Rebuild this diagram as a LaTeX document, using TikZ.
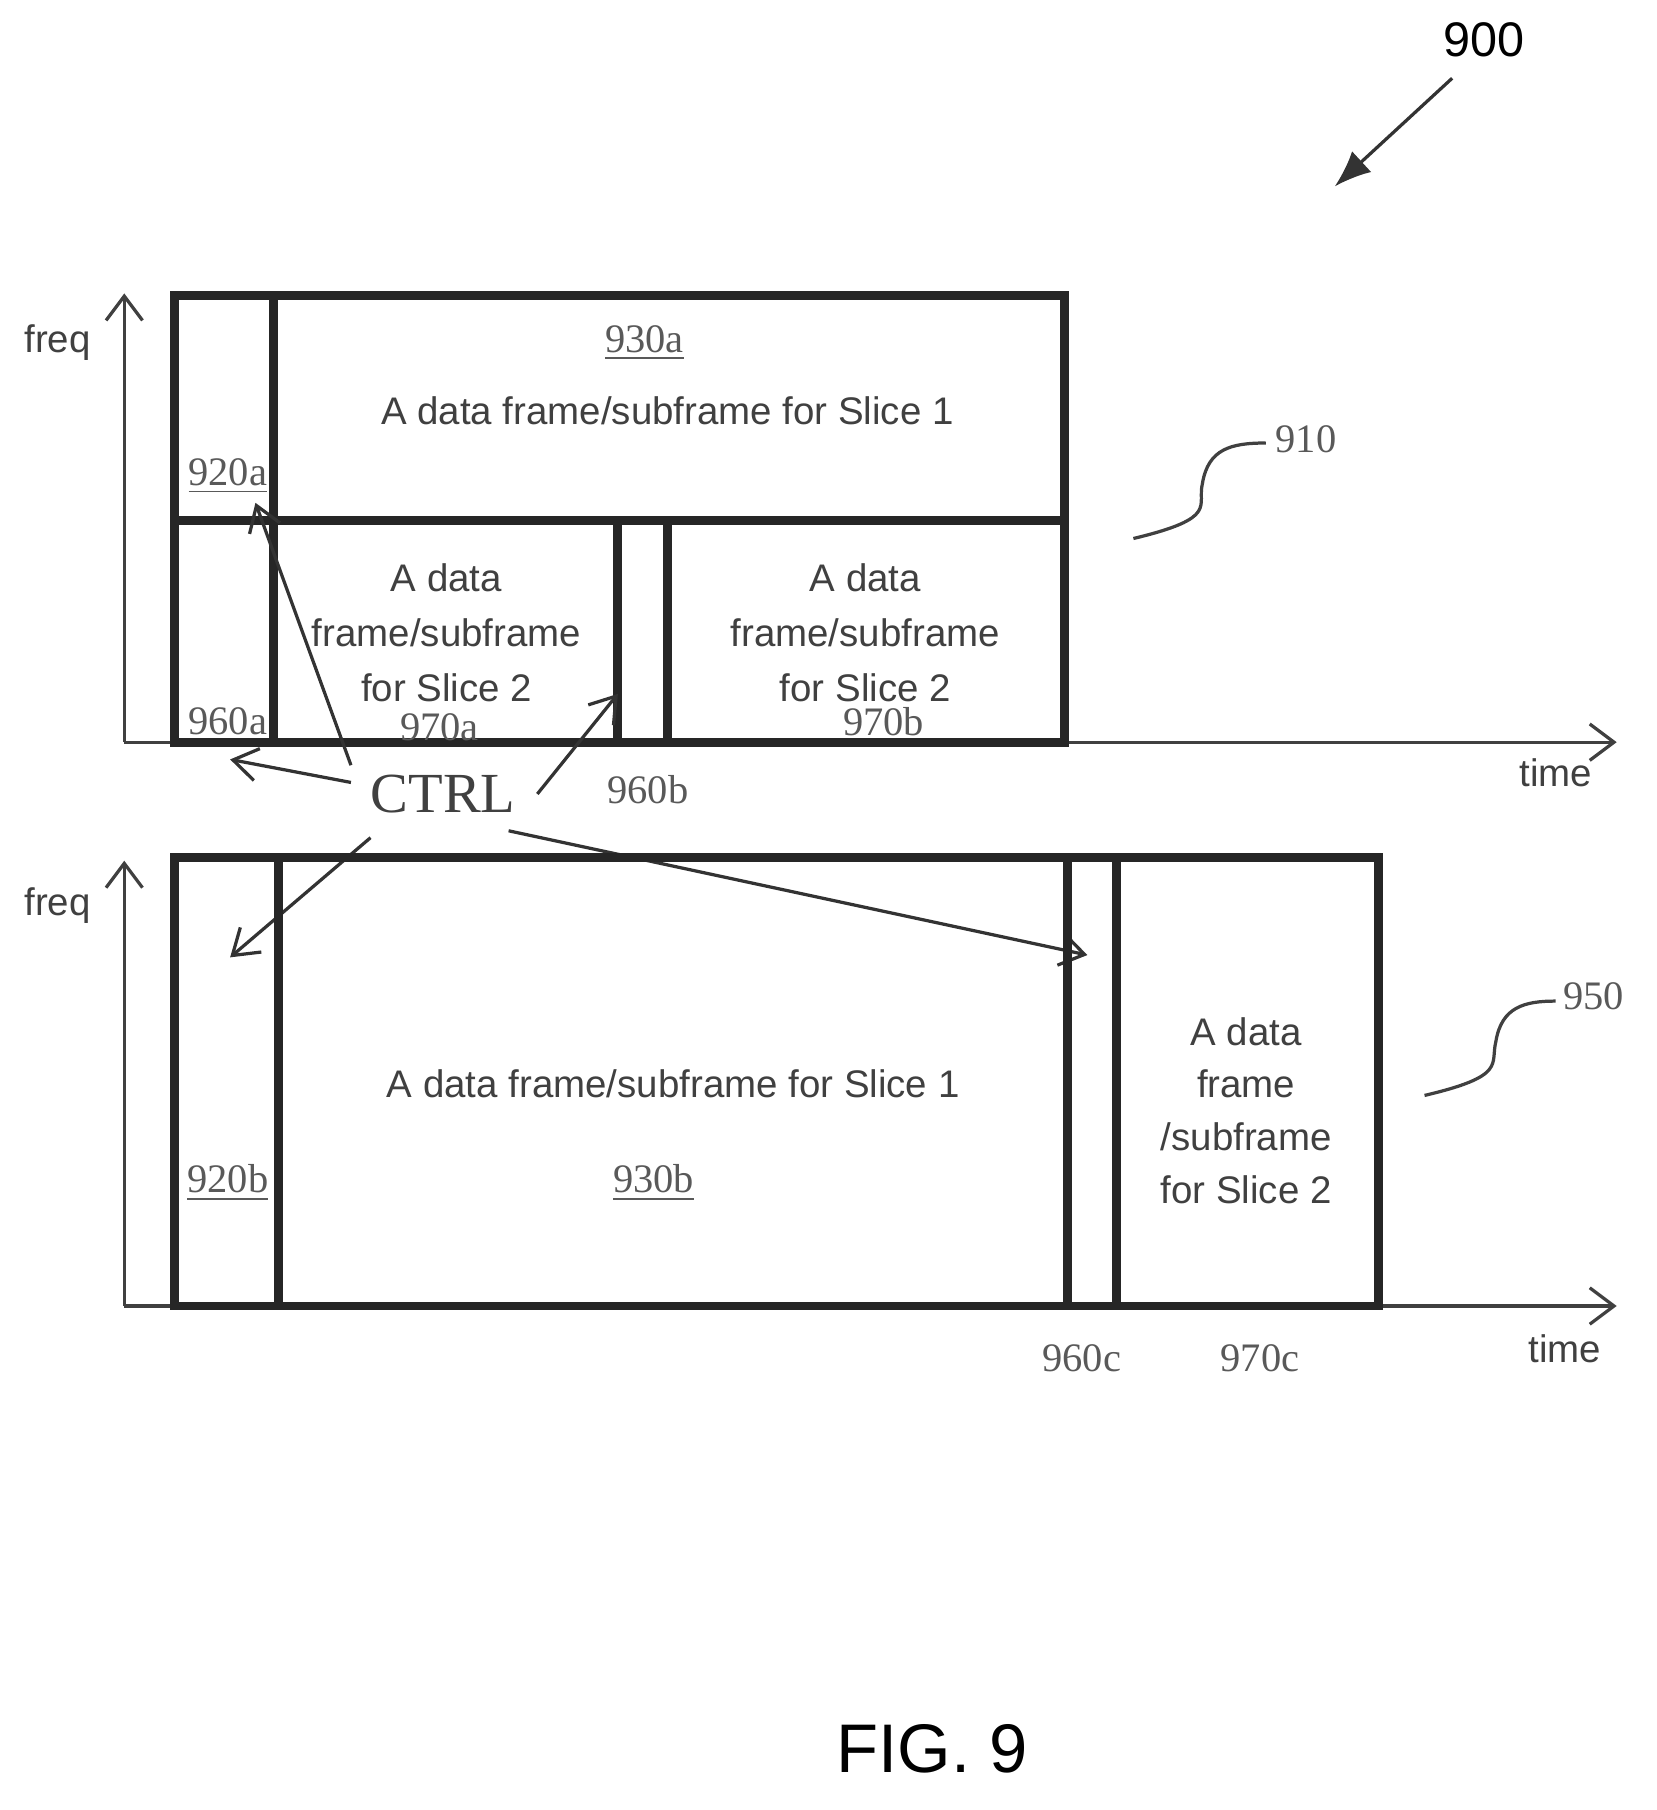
\documentclass[tikz,border=0pt]{standalone}
\usepackage{fontspec}
\setmainfont{Liberation Serif}
\setsansfont{Liberation Sans}
\usetikzlibrary{positioning,arrows.meta}

\begin{document}
\begin{tikzpicture}[
  x=0.01cm, y=-0.01cm,
  frame/.style={line width=2.2pt, draw=black!85},
  axis/.style={line width=0.8pt, draw=black!75, -{Straight Barb[length=6pt,width=9pt]}},
  ptr/.style={line width=0.8pt, draw=black!80, -{Straight Barb[length=6pt,width=8pt]}},
  txt/.style={font=\sffamily\fontsize{9.5}{13.5}\selectfont, text=black!75, align=center},
  ref/.style={font=\rmfamily\fontsize{10}{12}\selectfont, text=black!65},
  uref/.style={ref, inner sep=1pt},
  scale=1
]
  \useasboundingbox (0,0) rectangle (1440,1573);

  % top panel
  \coordinate (o1) at (108,645);
  \coordinate (f1) at (108,255);
  \coordinate (t1) at (1405,645);
  \draw[axis] (o1) -- (f1);
  \draw[axis] (o1) -- (t1);
  \draw[frame] (152,257) rectangle (925,645);
  \draw[frame] (238,257) -- (238,645);
  \draw[frame] (152,452) -- (925,452);
  \draw[frame] (537,452) -- (537,645);
  \draw[frame] (580,452) -- (580,645);

  \node[uref] (l930a) at (560,298) {\underline{930a}};
  \node[txt] (s1a) at (580,357) {A data frame/subframe for Slice 1};
  \node[uref] (l920a) at (198,414) {\underline{920a}};
  \node[txt] (s2a) at (388,550) {A data\\frame/subframe\\for Slice 2};
  \node[txt] (s2b) at (752,550) {A data\\frame/subframe\\for Slice 2};
  \node[ref] (l960a) at (198,627) {960a};
  \node[ref] (l970a) at (382,632) {970a};
  \node[ref] (l970b) at (768,627) {970b};
  \node[ref] (l960b) at (563,686) {960b};
  \node[txt] (time1) at (1352,672) {time};
  \node[txt] (freq1) at (50,298) {freq};
  \node[ref] (l910) at (1135,382) {910};
  \draw[line width=0.8pt, black!75] (985,468) .. controls (1060,450) and (1040,440) .. (1045,420)
    .. controls (1050,390) and (1070,385) .. (1100,385);

  % control pointers
  \node[font=\rmfamily\fontsize{14}{16}\selectfont, text=black!75] (ctrl) at (385,690) {CTRL};
  \coordinate (c1) at (200,660);
  \coordinate (c2) at (222,437);
  \coordinate (c3) at (537,603);
  \coordinate (c4) at (200,832);
  \coordinate (c5) at (945,830);
  \draw[ptr] (305,680) -- (c1);
  \draw[ptr] (305,665) -- (c2);
  \draw[ptr] (467,690) -- (c3);
  \draw[ptr] (322,728) -- (c4);
  \draw[ptr] (442,722) -- (c5);

  % bottom panel
  \coordinate (o2) at (108,1135);
  \coordinate (f2) at (108,748);
  \coordinate (t2) at (1405,1135);
  \draw[axis] (o2) -- (f2);
  \draw[axis] (o2) -- (t2);
  \draw[frame] (152,745) rectangle (1198,1135);
  \draw[frame] (242,745) -- (242,1135);
  \draw[frame] (928,745) -- (928,1135);
  \draw[frame] (970,745) -- (970,1135);

  \node[uref] (l920b) at (198,1028) {\underline{920b}};
  \node[txt] (s1b) at (585,942) {A data frame/subframe for Slice 1};
  \node[uref] (l930b) at (568,1028) {\underline{930b}};
  \node[txt, font=\sffamily\fontsize{9.5}{13}\selectfont] (s2c) at (1083,965) {A data\\frame\\/subframe\\for Slice 2};
  \node[ref] (l960c) at (940,1180) {960c};
  \node[ref] (l970c) at (1095,1180) {970c};
  \node[txt] (time2) at (1360,1172) {time};
  \node[txt] (freq2) at (50,787) {freq};
  \node[ref] (l950) at (1385,866) {950};
  \draw[line width=0.8pt, black!75] (1238,952) .. controls (1310,935) and (1295,925) .. (1300,905)
    .. controls (1305,875) and (1325,870) .. (1352,870);

  % figure number
  \node[font=\sffamily\fontsize{12}{14}\selectfont] (l900) at (1290,35) {900};
  \coordinate (a900) at (1160,162);
  \draw[ptr, -{Latex[length=9pt,width=7pt]}] (1262,68) -- (a900);
  \node[font=\sffamily\fontsize{17}{20}\selectfont] (fig) at (810,1520) {FIG. 9};
\end{tikzpicture}
\end{document}
